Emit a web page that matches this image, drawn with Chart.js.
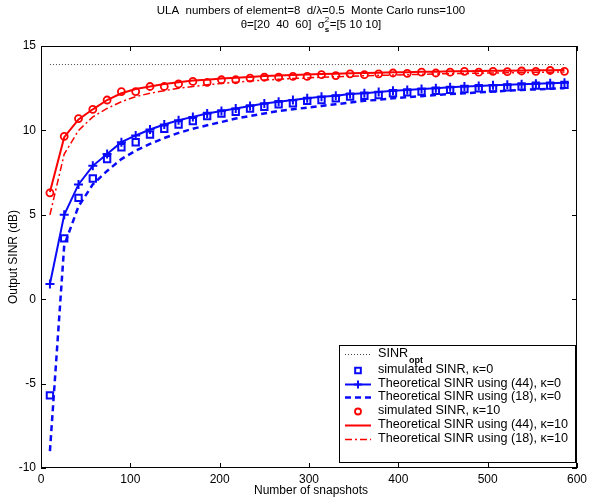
<!DOCTYPE html>
<html>
<head>
<meta charset="utf-8">
<script src="https://cdn.jsdelivr.net/npm/chart.js@4.4.0/dist/chart.umd.min.js"></script>
<style>
  html, body { margin: 0; padding: 0; background: #fff; }
  #c { display: block; }
</style>
</head>
<body>
<canvas id="c" width="591" height="498"></canvas>
<script>
// number of snapshots (x positions of every marker)
const snapshots = [10, 26, 42, 58, 74, 90, 106, 122, 138, 154, 170, 186, 202, 218, 234, 250, 266, 282, 298,
  314, 330, 346, 362, 378, 394, 410, 426, 442, 458, 474, 490, 506, 522, 538, 554, 570, 586];

// SINR values in dB
const sinrOpt = [13.9, 13.9, 13.9, 13.9, 13.9, 13.9, 13.9, 13.9, 13.9, 13.9, 13.9, 13.9, 13.9, 13.9, 13.9, 13.9, 13.9, 13.9, 13.9,
  13.9, 13.9, 13.9, 13.9, 13.9, 13.9, 13.9, 13.9, 13.9, 13.9, 13.9, 13.9, 13.9, 13.9, 13.9, 13.9, 13.9, 13.9];

const simK0 = [-5.7, 3.6, 6.0, 7.15, 8.3, 9.0, 9.3, 9.75, 10.1, 10.35, 10.55, 10.85, 11.0, 11.1, 11.3, 11.4, 11.55, 11.6, 11.75,
  11.8, 11.9, 12.0, 12.05, 12.1, 12.2, 12.25, 12.3, 12.35, 12.4, 12.45, 12.5, 12.5, 12.55, 12.6, 12.65, 12.65, 12.7];

const theo44K0 = [0.9, 5.0, 6.8, 7.9, 8.6, 9.3, 9.7, 10.05, 10.35, 10.6, 10.8, 11.0, 11.15, 11.3, 11.45, 11.6, 11.7, 11.8, 11.9,
  12.0, 12.05, 12.15, 12.2, 12.28, 12.35, 12.4, 12.45, 12.5, 12.55, 12.6, 12.63, 12.67, 12.7, 12.73, 12.76, 12.8, 12.83];

const theo18K0 = [-9.0, 3.2, 5.5, 6.8, 7.6, 8.3, 8.8, 9.2, 9.55, 9.85, 10.1, 10.3, 10.5, 10.7, 10.85, 11.0, 11.15, 11.25, 11.35,
  11.45, 11.55, 11.65, 11.75, 11.82, 11.9, 11.97, 12.03, 12.1, 12.15, 12.2, 12.25, 12.3, 12.35, 12.4, 12.43, 12.47, 12.5];

const simK10 = [6.3, 9.65, 10.7, 11.25, 11.8, 12.3, 12.3, 12.6, 12.6, 12.75, 12.9, 12.85, 13.0, 13.0, 13.1, 13.15, 13.15, 13.2, 13.2,
  13.3, 13.25, 13.35, 13.3, 13.35, 13.4, 13.38, 13.45, 13.4, 13.45, 13.5, 13.45, 13.5, 13.48, 13.52, 13.5, 13.55, 13.5];

const theo44K10 = [6.35, 9.6, 10.65, 11.25, 11.8, 12.2, 12.45, 12.6, 12.75, 12.85, 12.95, 13.0, 13.07, 13.12, 13.17, 13.22, 13.25, 13.28, 13.31,
  13.34, 13.36, 13.38, 13.4, 13.42, 13.44, 13.45, 13.47, 13.48, 13.5, 13.51, 13.52, 13.53, 13.54, 13.55, 13.56, 13.57, 13.58];

const theo18K10 = [5.0, 8.6, 10.0, 10.8, 11.3, 11.7, 12.0, 12.2, 12.35, 12.5, 12.6, 12.7, 12.78, 12.85, 12.92, 12.98, 13.03, 13.07, 13.11,
  13.15, 13.18, 13.21, 13.24, 13.26, 13.28, 13.3, 13.32, 13.34, 13.36, 13.37, 13.39, 13.4, 13.41, 13.43, 13.44, 13.45, 13.46];

const xTicks = [0, 100, 200, 300, 400, 500, 600];
const yTicks = [-10, -5, 0, 5, 10, 15];

const legendLabels = [
  'SINR|opt',
  'simulated SINR, \u03ba=0',
  'Theoretical SINR using (44), \u03ba=0',
  'Theoretical SINR using (18), \u03ba=0',
  'simulated SINR, \u03ba=10',
  'Theoretical SINR using (44), \u03ba=10',
  'Theoretical SINR using (18), \u03ba=10'
];

const FONT = '"Liberation Sans", Arial, Helvetica, sans-serif';
const BLUE = 'rgb(10,10,250)';
const RED = 'rgb(255,0,0)';

function pts(ys) {
  return snapshots.map((x, i) => ({ x: x, y: ys[i] }));
}

// MATLAB-like frame: box on all four sides and ticks pointing inward
const framePlugin = {
  id: 'frame',
  afterDatasetsDraw(chart) {
    const ctx = chart.ctx;
    const a = chart.chartArea;
    const xs = chart.scales.x, ys = chart.scales.y;
    ctx.save();
    ctx.strokeStyle = '#000';
    ctx.lineWidth = 1;
    ctx.strokeRect(a.left + 0.5, a.top + 0.5, a.right - a.left - 1, a.bottom - a.top - 1);
    ctx.beginPath();
    xTicks.forEach(v => {
      const px = Math.round(xs.getPixelForValue(v)) + 0.5;
      ctx.moveTo(px, a.bottom); ctx.lineTo(px, a.bottom - 5);
      ctx.moveTo(px, a.top); ctx.lineTo(px, a.top + 5);
    });
    yTicks.forEach(v => {
      const py = Math.round(ys.getPixelForValue(v)) + 0.5;
      ctx.moveTo(a.left, py); ctx.lineTo(a.left + 5, py);
      ctx.moveTo(a.right, py); ctx.lineTo(a.right - 5, py);
    });
    ctx.stroke();
    ctx.restore();
  }
};

// titles, axis labels and the legend box drawn on top
const textPlugin = {
  id: 'texts',
  afterDraw(chart) {
    const ctx = chart.ctx;
    ctx.save();
    ctx.fillStyle = '#000';
    ctx.textBaseline = 'middle';

    // title line 1
    ctx.font = '11.5px ' + FONT;
    ctx.textAlign = 'center';
    ctx.fillText('ULA  numbers of element=8  d/\u03bb=0.5  Monte Carlo runs=100', 311, 11);

    // title line 2 with sigma_s^2
    const p1 = '\u03b8=[20  40  60]  \u03c3', p2 = '=[5 10 10]';
    ctx.font = '11.5px ' + FONT;
    const w1 = ctx.measureText(p1).width, w2 = ctx.measureText(p2).width;
    ctx.font = '8px ' + FONT;
    const ws = ctx.measureText('s').width + 1;
    const x0 = 311 - (w1 + ws + w2) / 2;
    ctx.textAlign = 'left';
    ctx.font = '11.5px ' + FONT;
    ctx.fillText(p1, x0, 25);
    ctx.font = '8px ' + FONT;
    ctx.fillText('2', x0 + w1, 20);
    ctx.font = 'bold 8px ' + FONT;
    ctx.fillText('s', x0 + w1, 30);
    ctx.font = '11.5px ' + FONT;
    ctx.fillText(p2, x0 + w1 + ws, 25);

    // axis titles
    ctx.font = '12px ' + FONT;
    ctx.textAlign = 'center';
    ctx.fillText('Number of snapshots', 311, 491);
    ctx.translate(14, 257);
    ctx.rotate(-Math.PI / 2);
    ctx.fillText('Output SINR (dB)', 0, 0);
    ctx.restore();

    // legend
    ctx.save();
    const bx = 339, by = 345, bw = 236, bh = 117;
    ctx.fillStyle = '#fff';
    ctx.fillRect(bx, by, bw, bh);
    ctx.strokeStyle = '#000';
    ctx.lineWidth = 1;
    ctx.strokeRect(bx + 0.5, by + 0.5, bw, bh);
    const rows = [354, 370, 384, 397, 411, 425, 439];
    chart.data.datasets.forEach((ds, i) => {
      const y = rows[i] + 0.5;
      const lx0 = 345, lx1 = 371, cx = 358;
      if (ds.showLine !== false) {
        ctx.save();
        ctx.strokeStyle = ds.borderColor;
        ctx.lineWidth = ds.borderWidth;
        ctx.setLineDash(ds.borderDash || []);
        ctx.beginPath();
        ctx.moveTo(lx0, y); ctx.lineTo(lx1, y);
        ctx.stroke();
        ctx.restore();
      }
      if (ds.pointRadius > 0) {
        ctx.save();
        ctx.strokeStyle = ds.pointBorderColor || ds.borderColor;
        ctx.fillStyle = 'rgba(0,0,0,0)';
        ctx.lineWidth = ds.pointBorderWidth;
        Chart.helpers.drawPoint(ctx, { pointStyle: ds.pointStyle, radius: ds.pointRadius - 0.5, rotation: 0, borderWidth: ds.pointBorderWidth }, cx, y);
        ctx.restore();
      }
      const parts = ds.label.split('|');
      ctx.fillStyle = '#000';
      ctx.textAlign = 'left';
      ctx.textBaseline = 'middle';
      ctx.font = '12.6px ' + FONT;
      ctx.fillText(parts[0], 378, rows[i]);
      if (parts[1]) {
        const w = ctx.measureText(parts[0]).width;
        ctx.font = 'bold 9px ' + FONT;
        ctx.fillText(parts[1], 378 + w + 1, rows[i] + 7);
      }
    });
    ctx.restore();
  }
};

const lineBase = { showLine: true, fill: false, tension: 0, pointRadius: 0, pointHoverRadius: 0 };

new Chart(document.getElementById('c'), {
  type: 'line',
  data: {
    datasets: [
      Object.assign({}, lineBase, { label: legendLabels[0], data: pts(sinrOpt), borderColor: '#444', borderWidth: 1, borderDash: [1, 2] }),
      { label: legendLabels[1], data: pts(simK0), showLine: false, borderColor: BLUE, backgroundColor: 'rgba(0,0,0,0)',
        pointStyle: 'rect', pointRadius: 4.5, pointBorderWidth: 2, pointBorderColor: BLUE, pointBackgroundColor: 'rgba(0,0,0,0)' },
      Object.assign({}, lineBase, { label: legendLabels[2], data: pts(theo44K0), borderColor: BLUE, borderWidth: 2,
        pointStyle: 'cross', pointRadius: 4.5, pointBorderWidth: 2, pointBorderColor: BLUE }),
      Object.assign({}, lineBase, { label: legendLabels[3], data: pts(theo18K0), borderColor: BLUE, borderWidth: 2.5, borderDash: [6, 4] }),
      { label: legendLabels[4], data: pts(simK10), showLine: false, borderColor: RED, backgroundColor: 'rgba(0,0,0,0)',
        pointStyle: 'circle', pointRadius: 3.5, pointBorderWidth: 1.8, pointBorderColor: RED, pointBackgroundColor: 'rgba(0,0,0,0)' },
      Object.assign({}, lineBase, { label: legendLabels[5], data: pts(theo44K10), borderColor: RED, borderWidth: 2 }),
      Object.assign({}, lineBase, { label: legendLabels[6], data: pts(theo18K10), borderColor: RED, borderWidth: 1.5, borderDash: [7, 3, 2, 3] })
    ]
  },
  options: {
    responsive: false,
    animation: false,
    devicePixelRatio: 1,
    layout: { padding: { top: 46, right: 10, left: 0, bottom: 0 } },
    plugins: { legend: { display: false }, tooltip: { enabled: false } },
    scales: {
      x: {
        type: 'linear', min: 0, max: 600,
        afterBuildTicks: s => { s.ticks = xTicks.map(v => ({ value: v })); },
        afterFit: s => { s.height = 30; },
        ticks: { color: '#000', font: { size: 12, family: FONT }, padding: 4, maxRotation: 0 },
        grid: { display: true, drawOnChartArea: false, drawTicks: false },
        border: { display: false }
      },
      y: {
        type: 'linear', min: -10, max: 15,
        afterBuildTicks: s => { s.ticks = yTicks.map(v => ({ value: v })); },
        afterFit: s => { s.width = 41; },
        ticks: { color: '#000', font: { size: 12, family: FONT }, padding: 5 },
        grid: { display: true, drawOnChartArea: false, drawTicks: false },
        border: { display: false }
      }
    }
  },
  plugins: [framePlugin, textPlugin]
});
</script>
</body>
</html>
